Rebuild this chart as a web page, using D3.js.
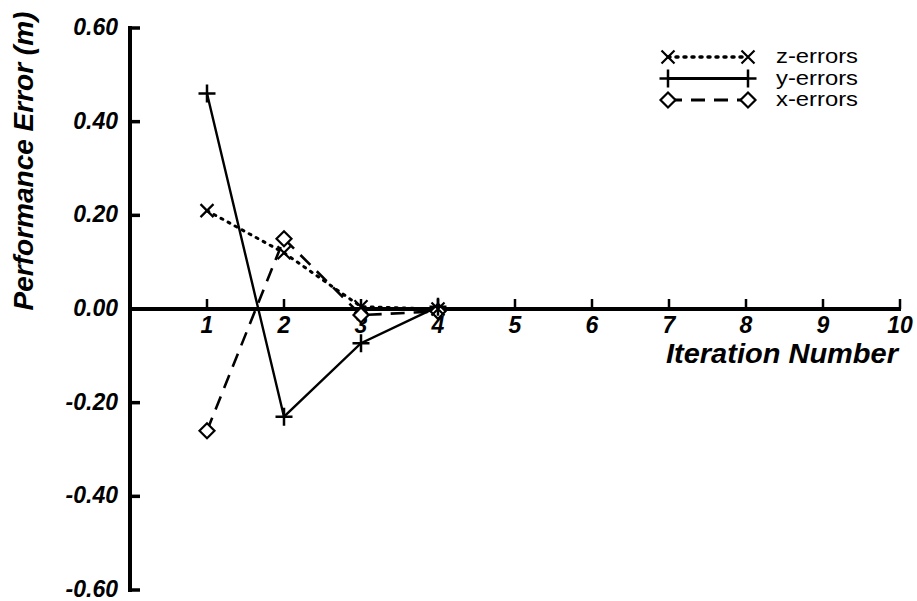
<!DOCTYPE html>
<html>
<head>
<meta charset="utf-8">
<script src="https://cdn.jsdelivr.net/npm/d3@7"></script>
<style>
  body { margin: 0; background: #fff; }
  text { font-family: "Liberation Sans", Arial, sans-serif; fill: #000; }
  .tick-label { font-weight: bold; font-style: italic; font-size: 23px; }
  .axis-title { font-weight: bold; font-style: italic; font-size: 28px; }
  .legend-text { font-size: 21px; }
</style>
</head>
<body>
<div id="chart"></div>
<script>
// Chart values
var iterations = [1, 2, 3, 4];
var zErrors = [0.21, 0.12, 0.005, 0.0];
var yErrors = [0.46, -0.23, -0.073, 0.005];
var xErrors = [-0.26, 0.15, -0.013, -0.005];
var xTicks = [1, 2, 3, 4, 5, 6, 7, 8, 9, 10];
var yTicks = [-0.6, -0.4, -0.2, 0.0, 0.2, 0.4, 0.6];
var seriesNames = ["z-errors", "y-errors", "x-errors"];

var svgWidth = 917;
var svgHeight = 601;

var svg = d3.select("#chart")
  .append("svg")
  .attr("width", svgWidth)
  .attr("height", svgHeight);

// Scales
var xScale = d3.scaleLinear().domain([0, 10]).range([130, 900]);
var yScale = d3.scaleLinear().domain([-0.6, 0.6]).range([590, 28]);

// Y axis line and ticks
svg.append("line")
  .attr("x1", 130).attr("x2", 130)
  .attr("y1", yScale(0.6) - 2).attr("y2", yScale(-0.6) + 2)
  .attr("stroke", "#000").attr("stroke-width", 4);

svg.selectAll(".ytick")
  .data(yTicks)
  .enter()
  .append("line")
  .attr("x1", 130).attr("x2", 140)
  .attr("y1", d => yScale(d)).attr("y2", d => yScale(d))
  .attr("stroke", "#000").attr("stroke-width", 3.5);

svg.selectAll(".ylabel")
  .data(yTicks)
  .enter()
  .append("text")
  .classed("tick-label", true)
  .attr("x", 118)
  .attr("y", d => yScale(d) + 7)
  .attr("text-anchor", "end")
  .text(d => d.toFixed(2).replace("\u2212", "-"));

// X axis line and ticks
svg.append("line")
  .attr("x1", 130).attr("x2", xScale(10) + 1)
  .attr("y1", yScale(0)).attr("y2", yScale(0))
  .attr("stroke", "#000").attr("stroke-width", 4);

svg.selectAll(".xtick")
  .data(xTicks)
  .enter()
  .append("line")
  .attr("x1", d => xScale(d)).attr("x2", d => xScale(d))
  .attr("y1", yScale(0)).attr("y2", yScale(0) - 10)
  .attr("stroke", "#000").attr("stroke-width", 2.5);

svg.selectAll(".xlabel")
  .data(xTicks)
  .enter()
  .append("text")
  .classed("tick-label", true)
  .attr("x", d => xScale(d))
  .attr("y", yScale(0) + 24)
  .attr("text-anchor", "middle")
  .text(d => d);

// Axis titles
svg.append("text")
  .classed("axis-title", true)
  .attr("transform", "translate(33, 161) rotate(-90)")
  .attr("text-anchor", "middle")
  .text("Performance Error (m)");

svg.append("text")
  .classed("axis-title", true)
  .attr("x", 898)
  .attr("y", 363)
  .attr("text-anchor", "end")
  .attr("textLength", 232)
  .attr("lengthAdjust", "spacingAndGlyphs")
  .text("Iteration Number");

// Marker drawing
function drawMarker(g, type, x, y) {
  if (type === "cross") {
    g.append("path")
      .attr("d", `M${x - 6.5},${y - 6.5}L${x + 6.5},${y + 6.5}M${x - 6.5},${y + 6.5}L${x + 6.5},${y - 6.5}`)
      .attr("stroke", "#000").attr("stroke-width", 2.2).attr("fill", "none");
  }
  else if (type === "plus") {
    g.append("path")
      .attr("d", `M${x - 8.5},${y}L${x + 8.5},${y}M${x},${y - 9}L${x},${y + 9}`)
      .attr("stroke", "#000").attr("stroke-width", 2.5).attr("fill", "none");
  }
  else if (type === "diamond") {
    g.append("path")
      .attr("d", `M${x},${y - 7.5}L${x + 7.5},${y}L${x},${y + 7.5}L${x - 7.5},${y}Z`)
      .attr("stroke", "#000").attr("stroke-width", 2.2).attr("fill", "#fff");
  }
}

var series = [
  { name: seriesNames[0], values: zErrors, marker: "cross", dash: "2,6", cap: "round", width: 3 },
  { name: seriesNames[1], values: yErrors, marker: "plus", dash: null, cap: "butt", width: 2.4 },
  { name: seriesNames[2], values: xErrors, marker: "diamond", dash: "14,9", cap: "butt", width: 2.6 }
];

var line = d3.line()
  .x(d => xScale(d[0]))
  .y(d => yScale(d[1]));

series.forEach(s => {
  var pts = iterations.map((it, i) => [it, s.values[i]]);
  svg.append("path")
    .datum(pts)
    .attr("d", line)
    .attr("fill", "none")
    .attr("stroke", "#000")
    .attr("stroke-width", s.width)
    .attr("stroke-linecap", s.cap)
    .attr("stroke-dasharray", s.dash);
});

series.slice().reverse().forEach(s => {
  var g = svg.append("g");
  iterations.forEach((it, i) => drawMarker(g, s.marker, xScale(it), yScale(s.values[i])));
});

// Legend
var legend = svg.append("g").classed("legend", true);
series.forEach((s, i) => {
  var ly = 57 + i * 21.5;
  legend.append("line")
    .attr("x1", 668).attr("x2", 748)
    .attr("y1", ly).attr("y2", ly)
    .attr("stroke", "#000")
    .attr("stroke-width", s.width + 0.5)
    .attr("stroke-linecap", s.cap)
    .attr("stroke-dasharray", s.dash);
  drawMarker(legend, s.marker, 668, ly);
  drawMarker(legend, s.marker, 748, ly);
  legend.append("text")
    .classed("legend-text", true)
    .attr("x", 776)
    .attr("y", ly + 6)
    .attr("textLength", 82)
    .attr("lengthAdjust", "spacingAndGlyphs")
    .text(s.name);
});
</script>
</body>
</html>
